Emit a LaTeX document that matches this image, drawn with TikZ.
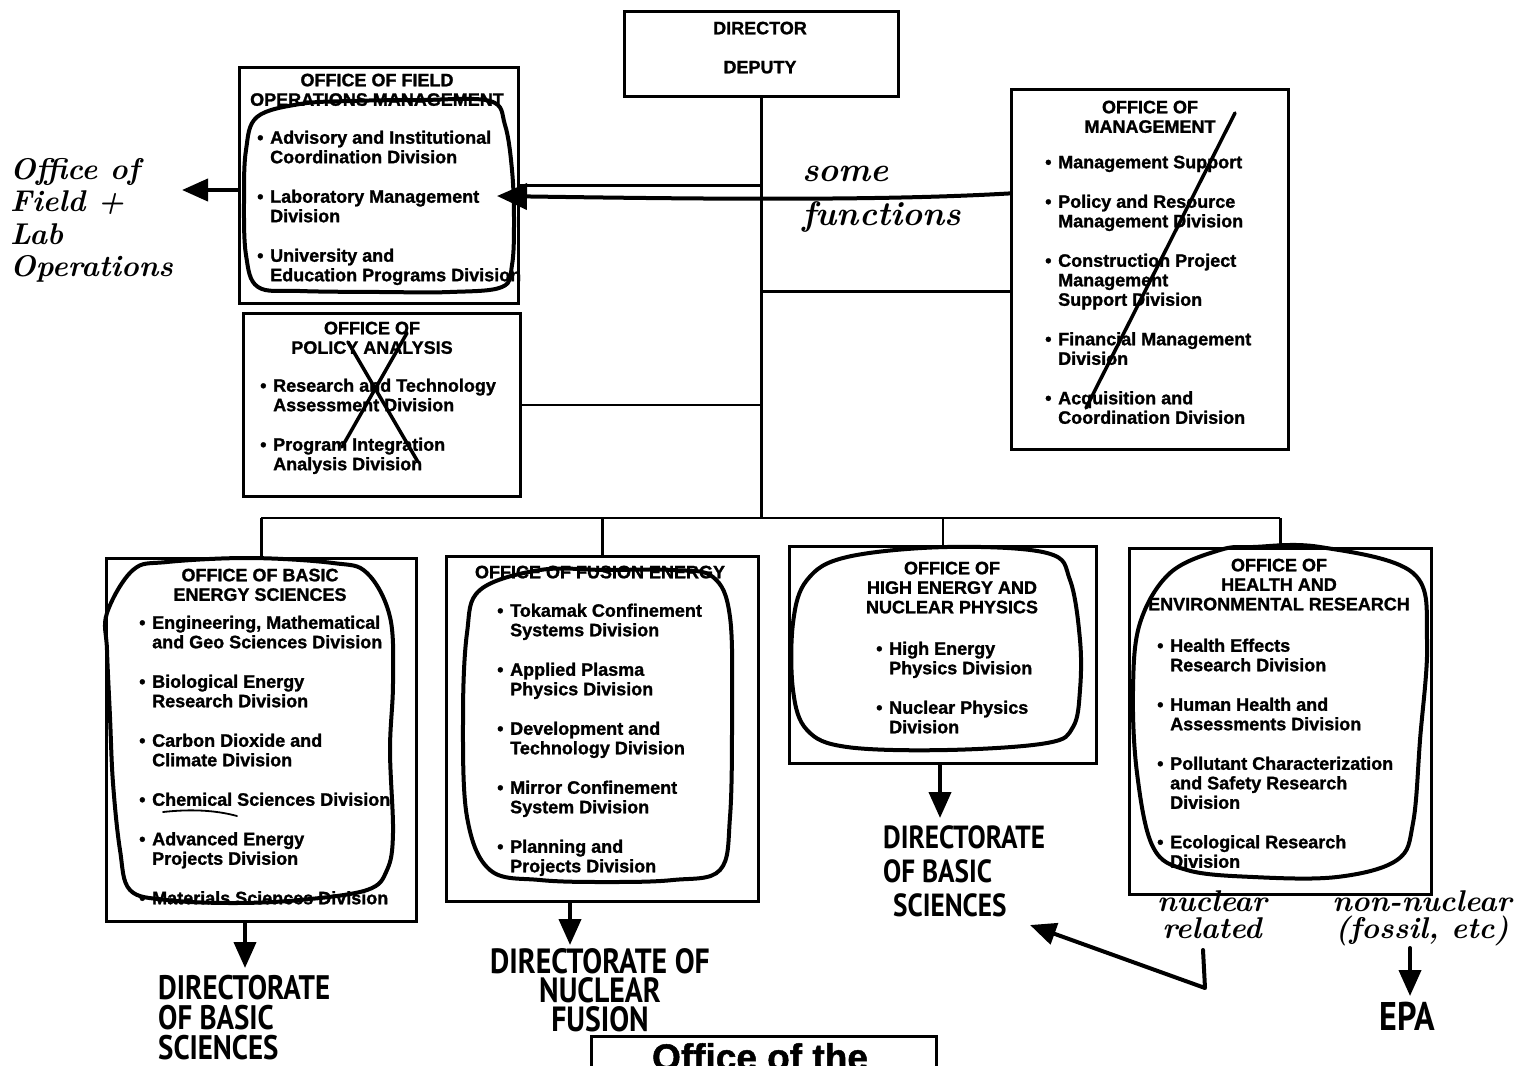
\documentclass[tikz,border=0pt]{standalone}
\usepackage{fontspec}
\usetikzlibrary{arrows.meta,calc}
\newfontfamily\printfont{Liberation Sans}[BoldFeatures={FakeBold=1.3}]
\newfontfamily\markfont{PT Sans}[FakeStretch=0.85]
\newcommand\itembul{\makebox[13pt][l]{\textbullet}}
\newcommand\itemind{\hspace*{13pt}}
\tikzset{
  orgbox/.style={draw, line width=2.8pt, rectangle, inner sep=0pt, anchor=north west},
  orgline/.style={line width=2.8pt},
  boxtitle/.style={font=\printfont\bfseries\fontsize{18}{19.5}\selectfont, align=center, inner sep=0pt, anchor=north},
  boxitems/.style={font=\printfont\bfseries\fontsize{18}{19.5}\selectfont, align=left, inner sep=0pt, anchor=north west},
  ink/.style={line width=4pt, line cap=round, line join=round},
  inkarrow/.style={ink, -{Triangle[length=26pt,width=22pt]}},
  penloop/.style={line width=4pt, line join=round},
  cursive/.style={font=\rmfamily\bfseries\itshape\fontsize{30}{33}\selectfont, align=left, inner sep=0pt},
  marker/.style={font=\markfont\bfseries\fontsize{34}{30}\selectfont, align=left, inner sep=0pt},
}
\begin{document}
\begin{tikzpicture}[x=1pt,y=-1pt]
\useasboundingbox (0,0) rectangle (1530,1065);
\clip (0,0) rectangle (1530,1065);

% ---- printed organisation chart ----
\node[orgbox, minimum width=274pt, minimum height=85pt] (dir) at (623,10) {};
\node[orgbox, minimum width=279pt, minimum height=236pt] (field) at (238,66) {};
\node[orgbox, minimum width=277pt, minimum height=183pt] (policy) at (242,312) {};
\node[orgbox, minimum width=277pt, minimum height=360pt] (mgmt) at (1010,88) {};
\node[orgbox, minimum width=310pt, minimum height=363pt] (bes) at (105,557) {};
\node[orgbox, minimum width=312pt, minimum height=345pt] (fus) at (445,555) {};
\node[orgbox, minimum width=307pt, minimum height=217pt] (henp) at (788,545) {};
\node[orgbox, minimum width=302pt, minimum height=346pt] (her) at (1128,547) {};
\node[orgbox, minimum width=345pt, minimum height=100pt] (ofthe) at (590,1035) {};

% connectors
\coordinate (busy) at (0,518);
\coordinate (mgline) at ($(mgmt.west)+(0,22)$);
\draw[orgline] (dir.south) -- (dir.south |- busy);
\draw[orgline] (field.east) -- (field.east -| dir.south);
\draw[orgline] (policy.east) -- (policy.east -| dir.south);
\draw[orgline] (mgline) -- (mgline -| dir.south);
\draw[orgline] (bes.north |- busy) -- (her.north |- busy);
\foreach \b in {bes,fus,henp,her} \draw[orgline] (\b.north) -- (\b.north |- busy);

% box texts
\node[boxtitle] (dir-t) at (760,21.5) {DIRECTOR\\[19.5pt]DEPUTY};

\node[boxtitle] (field-t) at (377,73.5) {OFFICE OF FIELD\\OPERATIONS MANAGEMENT};
\node[boxitems] (field-i) at (257,130.5) {\itembul Advisory and Institutional\\ \itemind Coordination Division\\[20pt]
  \itembul Laboratory Management\\ \itemind Division\\[20pt]
  \itembul University and\\ \itemind Education Programs Division};

\node[boxtitle] (policy-t) at (372,321.5) {OFFICE OF\\POLICY ANALYSIS};
\node[boxitems] (policy-i) at (260,378.5) {\itembul Research and Technology\\ \itemind Assessment Division\\[20pt]
  \itembul Program Integration\\ \itemind Analysis Division};

\node[boxtitle] (mgmt-t) at (1150,100.5) {OFFICE OF\\MANAGEMENT};
\node[boxitems] (mgmt-i) at (1045,155.5) {\itembul Management Support\\[20pt]
  \itembul Policy and Resource\\ \itemind Management Division\\[20pt]
  \itembul Construction Project\\ \itemind Management\\ \itemind Support Division\\[20pt]
  \itembul Financial Management\\ \itemind Division\\[20pt]
  \itembul Acquisition and\\ \itemind Coordination Division};

\node[boxtitle] (bes-t) at (260,568.5) {OFFICE OF BASIC\\ENERGY SCIENCES};
\node[boxitems] (bes-i) at (139,615.5) {\itembul Engineering, Mathematical\\ \itemind and Geo Sciences Division\\[20pt]
  \itembul Biological Energy\\ \itemind Research Division\\[20pt]
  \itembul Carbon Dioxide and\\ \itemind Climate Division\\[20pt]
  \itembul Chemical Sciences Division\\[20pt]
  \itembul Advanced Energy\\ \itemind Projects Division\\[20pt]
  \itembul Materials Sciences Division};

\node[boxtitle] (fus-t) at (600,565.5) {OFFICE OF FUSION ENERGY};
\node[boxitems] (fus-i) at (497,603.5) {\itembul Tokamak Confinement\\ \itemind Systems Division\\[20pt]
  \itembul Applied Plasma\\ \itemind Physics Division\\[20pt]
  \itembul Development and\\ \itemind Technology Division\\[20pt]
  \itembul Mirror Confinement\\ \itemind System Division\\[20pt]
  \itembul Planning and\\ \itemind Projects Division};

\node[boxtitle] (henp-t) at (952,561.5) {OFFICE OF\\HIGH ENERGY AND\\NUCLEAR PHYSICS};
\node[boxitems] (henp-i) at (876,641.5) {\itembul High Energy\\ \itemind Physics Division\\[20pt]
  \itembul Nuclear Physics\\ \itemind Division};

\node[boxtitle] (her-t) at (1279,558.5) {OFFICE OF\\HEALTH AND\\ENVIRONMENTAL RESEARCH};
\node[boxitems] (her-i) at (1157,638.5) {\itembul Health Effects\\ \itemind Research Division\\[20pt]
  \itembul Human Health and\\ \itemind Assessments Division\\[20pt]
  \itembul Pollutant Characterization\\ \itemind and Safety Research\\ \itemind Division\\[20pt]
  \itembul Ecological Research\\ \itemind Division};

\node[font=\printfont\bfseries\fontsize{37}{40}\selectfont, inner sep=0pt, anchor=north] (ofthe-t) at (760,1043) {Office of the};

% ---- pen annotations ----
% loops round the divisions
\draw[penloop] plot[smooth cycle, tension=0.6] coordinates {(257,117) (300,104) (350,101) (420,100) (490,101) (505,125) (512,170) (514,220) (512,265) (502,287) (450,292) (380,292) (300,291) (258,287) (246,255) (244,200) (246,150)};
\draw[penloop] plot[smooth cycle, tension=0.6] coordinates {(107,613) (133,570) (167,562) (250,558) (333,563) (367,573) (390,617) (393,683) (390,750) (393,833) (387,870) (367,890) (300,900) (233,903) (167,900) (130,890) (120,850) (113,783) (110,717) (107,650)};
\draw[penloop] plot[smooth cycle, tension=0.6] coordinates {(480,590) (540,570) (607,570) (673,570) (713,577) (730,617) (732,717) (730,817) (720,870) (673,880) (607,882) (540,880) (490,870) (467,817) (463,717) (467,633)};
\draw[penloop] plot[smooth cycle, tension=0.6] coordinates {(807,580) (847,557) (947,547) (1047,553) (1070,580) (1080,640) (1080,690) (1073,727) (1047,743) (947,750) (847,747) (807,730) (793,690) (793,623)};
\draw[penloop] plot[smooth cycle, tension=0.6] coordinates {(1220,550) (1253,547) (1320,547) (1413,573) (1427,640) (1420,740) (1413,823) (1397,860) (1337,877) (1253,877) (1187,870) (1153,847) (1137,773) (1133,690) (1140,623) (1170,573)};

% crossings-out
\draw[ink, line width=3.5pt] (1086,408) -- (1235,113);
\draw[ink, line width=3.5pt] (348,342) -- (418,462);
\draw[ink, line width=3.5pt] (407,333) -- (342,447);
\draw[ink, line width=1.8pt] (163,812) .. controls (190,809) and (215,810) .. (237,816);

% notes and arrows
\node[cursive, font=\rmfamily\bfseries\itshape\fontsize{30}{32.5}\selectfont, anchor=north west] (fo-note) at (10,158) {Office of\\Field +\\Lab\\Operations};
\coordinate (fo-start) at (238,190);
\coordinate (fo-tip) at (182,190);
\draw[inkarrow] (fo-start) -- (fo-tip);

\node[cursive, font=\rmfamily\bfseries\itshape\fontsize{34}{44}\selectfont, anchor=north west] (sf-note) at (802,166) {some\\functions};
\coordinate (sf-start) at ($(mgmt.west)+(0,-76)$);
\coordinate (sf-tip) at (497,196);
\draw[inkarrow, -{Triangle[length=30pt,width=26pt]}] (sf-start) .. controls (880,201) and (700,199) .. (sf-tip);

\node[marker, anchor=north west] (dbs-a) at (158,975) {DIRECTORATE\\OF BASIC\\SCIENCES};
\coordinate (tip-a) at (245,968);
\draw[inkarrow] (bes.south -| tip-a) -- (tip-a);

\node[marker, align=center, anchor=north, font=\markfont\bfseries\fontsize{35}{29}\selectfont] (dnf) at (600,948) {DIRECTORATE OF\\NUCLEAR\\FUSION};
\coordinate (tip-b) at (570,945);
\draw[inkarrow] (fus.south -| tip-b) -- (tip-b);

\node[marker, anchor=north west, font=\markfont\bfseries\fontsize{32}{34}\selectfont] (dbs-c) at (883,825) {DIRECTORATE\\OF BASIC\\\hspace*{10pt}SCIENCES};
\coordinate (tip-c) at (940,818);
\draw[inkarrow] (henp.south -| tip-c) -- (tip-c);

\node[cursive, align=center, anchor=north, font=\rmfamily\bfseries\itshape\fontsize{30}{27}\selectfont] (nucrel) at (1212,890) {nuclear\\related};
\coordinate (nr-top) at (1203,950);
\coordinate (nr-corner) at (1205,988);
\coordinate (nr-tip) at (1030,925);
\draw[inkarrow] (nr-top) -- (nr-corner) -- (nr-tip);

\node[cursive, align=center, anchor=north, font=\rmfamily\bfseries\itshape\fontsize{30}{27}\selectfont] (nonnuc) at (1422,890) {non-nuclear\\(fossil, etc)};
\node[marker, anchor=north, font=\markfont\bfseries\fontsize{40}{40}\selectfont] (epa) at (1407,1002) {EPA};
\coordinate (nn-top) at (1410,948);
\draw[inkarrow, shorten >=6pt] (nn-top) -- (nn-top |- epa.north);
\end{tikzpicture}
\end{document}
